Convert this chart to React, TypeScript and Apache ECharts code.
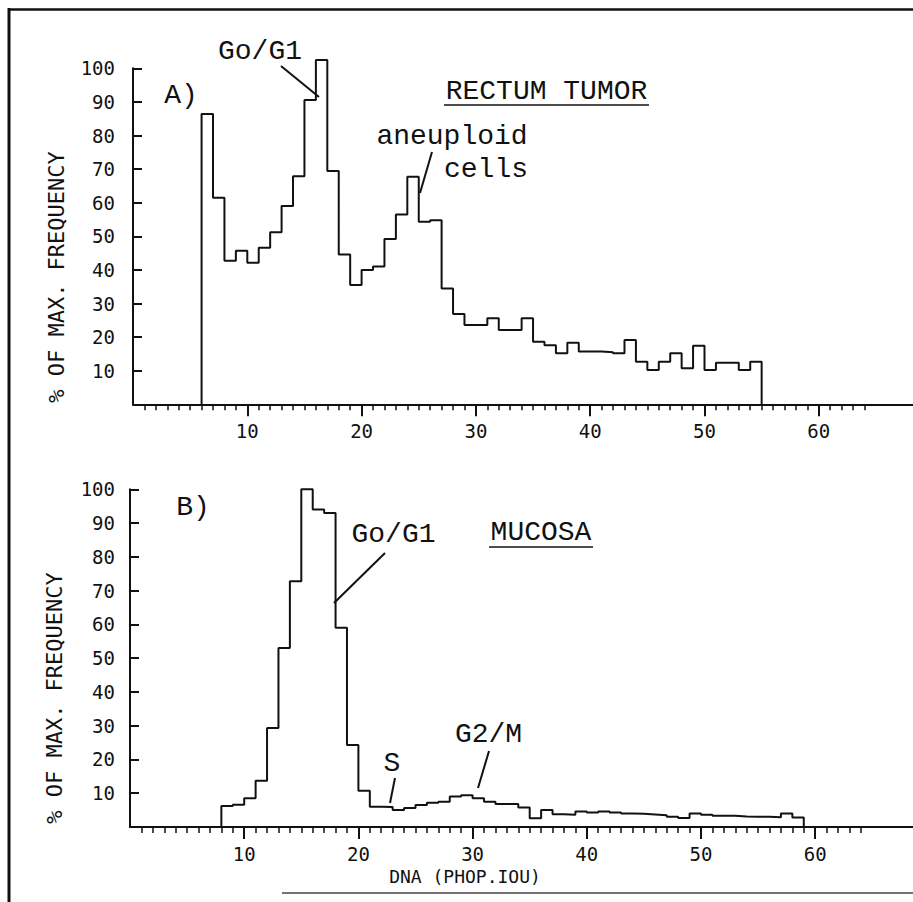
import React, { useEffect, useRef } from "react";
import * as echarts from "echarts";

// ---- Data ----
// Panel A: RECTUM TUMOR, bins of width 1 starting at each value below
const TOP_BIN_STARTS = [6, 7, 8, 9, 10, 11, 12, 13, 14, 15, 16, 17, 18, 19, 20, 21, 22, 23, 24, 25, 26, 27, 28, 29, 30, 31, 32, 33, 34, 35, 36, 37, 38, 39, 40, 41, 42, 43, 44, 45, 46, 47, 48, 49, 50, 51, 52, 53, 54];
const TOP_VALUES = [86.4, 61.5, 42.7, 45.7, 42.1, 46.6, 51.2, 59.0, 67.9, 90.6, 102.5, 69.4, 44.6, 35.5, 40.0, 41.0, 49.2, 56.5, 67.7, 54.3, 54.8, 34.5, 26.9, 23.6, 23.6, 25.6, 22.1, 22.1, 25.6, 18.6, 17.6, 15.2, 18.3, 15.7, 15.7, 15.5, 15.2, 19.1, 12.7, 10.2, 12.7, 15.2, 10.7, 17.4, 10.2, 12.4, 12.4, 10.2, 12.7];
const TOP_BIN_END = 55;

// Panel B: MUCOSA
const BOTTOM_BIN_STARTS = [8, 9, 10, 11, 12, 13, 14, 15, 16, 17, 18, 19, 20, 21, 22, 23, 24, 25, 26, 27, 28, 29, 30, 31, 32, 33, 34, 35, 36, 37, 38, 39, 40, 41, 42, 43, 44, 45, 46, 47, 48, 49, 50, 51, 52, 53, 54, 55, 56, 57, 58];
const BOTTOM_VALUES = [6.2, 6.6, 8.5, 13.7, 29.3, 53.0, 72.8, 100.0, 94.0, 93.0, 59.0, 24.3, 10.7, 6.0, 5.9, 5.0, 5.6, 6.5, 7.2, 7.5, 9.0, 9.4, 8.5, 7.5, 6.8, 6.8, 5.8, 2.6, 5.0, 3.8, 3.6, 4.6, 4.3, 4.6, 4.3, 4.0, 3.9, 3.7, 3.5, 3.0, 2.7, 4.0, 3.6, 3.3, 3.3, 3.1, 3.0, 3.0, 2.9, 4.0, 2.8];
const BOTTOM_BIN_END = 59;

const X_MAJOR_TICKS = [10, 20, 30, 40, 50, 60];
const X_MINOR_TICKS = [1, 2, 3, 4, 5, 6, 7, 8, 9, 11, 12, 13, 14, 15, 16, 17, 18, 19, 21, 22, 23, 24, 25, 26, 27, 28, 29, 31, 32, 33, 34, 35, 36, 37, 38, 39, 41, 42, 43, 44, 45, 46, 47, 48, 49, 51, 52, 53, 54, 55, 56, 57, 58, 59, 61, 62, 63, 64];

const Y_TITLE = "% OF MAX. FREQUENCY";
const X_TITLE = "DNA (PHOP.IOU)";

const INK = "#111";
const PLOT_FONT = "DejaVu Sans Mono";
const TYPE_FONT = "Liberation Mono";

function histPoints(starts: number[], values: number[], end: number) {
  const pts: number[][] = [[starts[0], 0]];
  starts.forEach((s, i) => pts.push([s, values[i]]));
  pts.push([end, values[values.length - 1]]);
  pts.push([end, 0]);
  return pts;
}

function xAxesFor(gridIndex: number, max: number, labelMargin: number) {
  return [
    {
      gridIndex,
      type: "value",
      min: 0,
      max,
      position: "bottom",
      axisLine: { show: true, onZero: false, lineStyle: { color: INK, width: 2 } },
      axisTick: { show: true, customValues: X_MINOR_TICKS, length: 6, lineStyle: { color: INK, width: 1.5 } },
      axisLabel: { show: false },
      splitLine: { show: false },
    },
    {
      gridIndex,
      type: "value",
      min: 0,
      max,
      position: "bottom",
      axisLine: { show: false, onZero: false },
      axisTick: { show: true, customValues: X_MAJOR_TICKS, length: 12, lineStyle: { color: INK, width: 2 } },
      axisLabel: {
        show: true,
        customValues: X_MAJOR_TICKS,
        margin: labelMargin,
        color: INK,
        fontFamily: PLOT_FONT,
        fontSize: 19,
      },
      splitLine: { show: false },
    },
  ];
}

function yAxisFor(gridIndex: number, margin: number) {
  return {
    gridIndex,
    type: "value",
    min: 0,
    max: 100,
    interval: 10,
    axisLine: { show: true, onZero: false, lineStyle: { color: INK, width: 2 } },
    axisTick: { show: true, inside: true, length: 9, lineStyle: { color: INK, width: 2 } },
    axisLabel: {
      margin,
      color: INK,
      fontFamily: PLOT_FONT,
      fontSize: 19,
      padding: [0, 0, 10, 0],
      formatter: (v: number) => (v === 0 ? "" : String(v)),
    },
    splitLine: { show: false },
  };
}

function txt(text: string, x: number, y: number, fontSize: number, fontFamily: string, rotation = 0) {
  return {
    type: "text",
    x,
    y,
    rotation,
    silent: true,
    style: {
      text,
      fill: INK,
      fontSize,
      fontFamily,
      textAlign: "center",
      textVerticalAlign: "middle",
      align: "center",
      verticalAlign: "middle",
    },
  };
}

function seg(x1: number, y1: number, x2: number, y2: number, w = 2, color = INK) {
  return {
    type: "line",
    silent: true,
    shape: { x1, y1, x2, y2 },
    style: { stroke: color, lineWidth: w },
  };
}

export default function App() {
  const ref = useRef<HTMLDivElement>(null);

  useEffect(() => {
    if (!ref.current) return;
    const chart = echarts.init(ref.current, undefined, { renderer: "svg" });
    const topMax = 780 / 11.43;
    const botMax = 783 / 11.42;
    const option: any = {
      animation: false,
      backgroundColor: "#fff",
      grid: [
        { left: 133, top: 68.3, width: 780, height: 336 },
        { left: 130, top: 489.3, width: 783, height: 337.7 },
      ],
      xAxis: [...xAxesFor(0, topMax, 17), ...xAxesFor(1, botMax, 17)],
      yAxis: [yAxisFor(0, 18), yAxisFor(1, 15)],
      series: [
        {
          type: "line",
          xAxisIndex: 0,
          yAxisIndex: 0,
          step: "end",
          symbol: "none",
          clip: false,
          lineStyle: { color: INK, width: 2 },
          data: histPoints(TOP_BIN_STARTS, TOP_VALUES, TOP_BIN_END),
        },
        {
          type: "line",
          xAxisIndex: 2,
          yAxisIndex: 1,
          step: "end",
          symbol: "none",
          clip: false,
          lineStyle: { color: INK, width: 2 },
          data: histPoints(BOTTOM_BIN_STARTS, BOTTOM_VALUES, BOTTOM_BIN_END),
        },
      ],
      graphic: {
        elements: [
          // frame
          seg(9, 8, 9, 902, 3),
          seg(8, 9.5, 913, 9.5, 2.5),
          seg(282, 893, 913, 893, 1.5, "#444"),
          // axis titles
          txt(Y_TITLE, 56, 277, 22, PLOT_FONT, Math.PI / 2),
          txt(Y_TITLE, 54, 698, 22, PLOT_FONT, Math.PI / 2),
          txt(X_TITLE, 465, 876, 18, PLOT_FONT),
          // panel A annotations
          txt("A)", 181, 95, 28, TYPE_FONT),
          txt("Go/G1", 260, 51, 28, TYPE_FONT),
          seg(281, 66, 319, 97, 2),
          txt("RECTUM TUMOR", 546.5, 91, 28, TYPE_FONT),
          seg(444, 105, 649, 105, 1.5),
          txt("aneuploid", 452, 136, 28, TYPE_FONT),
          txt("cells", 486, 169, 28, TYPE_FONT),
          seg(432, 152, 420, 193, 2),
          // panel B annotations
          txt("B)", 193, 507, 28, TYPE_FONT),
          txt("Go/G1", 393.5, 534.5, 28, TYPE_FONT),
          seg(385, 553, 334, 603, 2),
          txt("MUCOSA", 541, 532.5, 28, TYPE_FONT),
          seg(489, 547, 593, 547, 1.5),
          txt("S", 392, 763, 28, TYPE_FONT),
          seg(395, 778, 390, 803, 2),
          txt("G2/M", 488.5, 734, 28, TYPE_FONT),
          seg(489, 751, 478, 788, 2),
        ],
      },
    };
    chart.setOption(option);
    return () => chart.dispose();
  }, []);

  return (
    <div
      ref={ref}
      style={{ position: "absolute", left: 0, top: 0, width: 913, height: 902, background: "#fff" }}
    />
  );
}
